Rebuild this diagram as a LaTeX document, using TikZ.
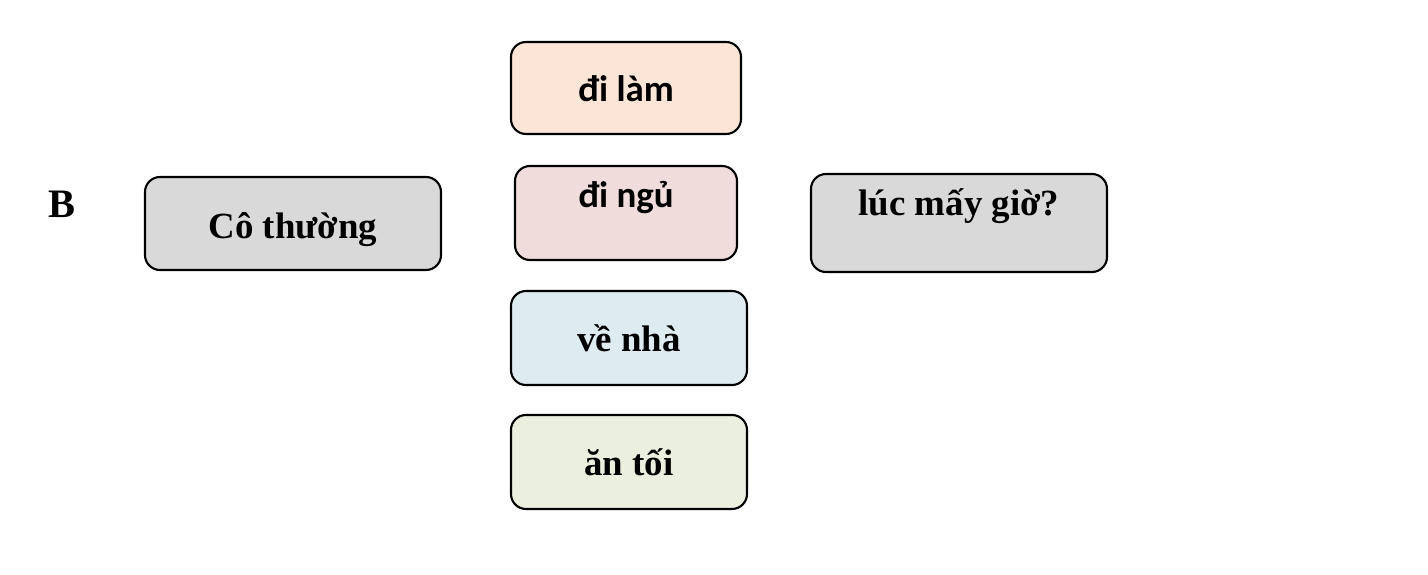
\documentclass[tikz,border=0pt]{standalone}
\usepackage{fontspec}
\setmainfont{Liberation Serif}
\newfontfamily\carlito{Carlito}
\definecolor{grey}{HTML}{D9D9D9}
\definecolor{peach}{HTML}{FBE5D6}
\definecolor{rose}{HTML}{F0DCDB}
\definecolor{sky}{HTML}{DEEBF1}
\definecolor{sage}{HTML}{EBF0DE}
\begin{document}
\begin{tikzpicture}[
		card/.style = {draw, line width=.6pt, rounded corners=.15cm, inner sep=0pt},
		word/.style = {anchor=base, font=\fontsize{10.5}{12}\selectfont\bfseries},
		sans/.style = {anchor=base, font=\fontsize{10.5}{12}\selectfont\carlito\bfseries}
	]
		\useasboundingbox (0, 0) rectangle (14.28, 5.74);
		\node [anchor=base, font=\fontsize{11.5}{13}\selectfont\bfseries] (b) at (.62, 3.56) {B};
		\node [card, fill=grey, minimum width=2.96cm, minimum height=.93cm] (thuong) at (2.93, 3.505) {};
		\node [word] (thuong-t) at (2.93, 3.36) {Cô thường};
		\node [card, fill=peach, minimum width=2.3cm, minimum height=.92cm] (lam) at (6.26, 4.86) {};
		\node [sans] (lam-t) at (6.26, 4.72) {đi làm};
		\node [card, fill=rose, minimum width=2.22cm, minimum height=.94cm] (ngu) at (6.26, 3.61) {};
		\node [sans] (ngu-t) at (6.26, 3.66) {đi ngủ};
		\node [card, fill=grey, minimum width=2.96cm, minimum height=.98cm] (gio) at (9.59, 3.51) {};
		\node [word] (gio-t) at (9.59, 3.58) {lúc mấy giờ?};
		\node [card, fill=sky, minimum width=2.36cm, minimum height=.94cm] (nha) at (6.29, 2.36) {};
		\node [word] (nha-t) at (6.29, 2.22) {về nhà};
		\node [card, fill=sage, minimum width=2.36cm, minimum height=.94cm] (toi) at (6.29, 1.12) {};
		\node [word] (toi-t) at (6.29, .99) {ăn tối};
	\end{tikzpicture}
\end{document}
